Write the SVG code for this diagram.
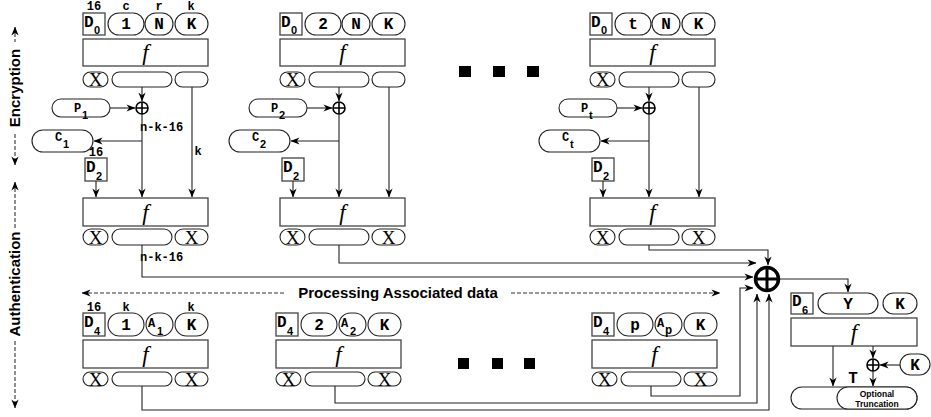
<svg xmlns="http://www.w3.org/2000/svg" width="931" height="417" viewBox="0 0 931 417">
<style>
.bx{fill:#fff;stroke:#444;stroke-width:1.3}
.pl{fill:#fff;stroke:#222;stroke-width:1.1}
.ln{fill:none;stroke:#222;stroke-width:1.1}
.ds{fill:none;stroke:#333;stroke-width:1.1;stroke-dasharray:4 2}
.xo{fill:none;stroke:#000;stroke-width:1.6}
.m{font-family:"Liberation Mono",monospace;font-weight:bold;font-size:16px;fill:#000}
.mc{font-family:"Liberation Mono",monospace;font-weight:bold;font-size:16px;fill:#000;text-anchor:middle}
.sm{font-family:"Liberation Mono",monospace;font-weight:bold;font-size:12px;fill:#000}
.lb{font-family:"Liberation Mono",monospace;font-weight:bold;font-size:12px;fill:#000;text-anchor:middle}
.sb{font-family:"Liberation Sans",sans-serif;font-weight:bold;font-size:11px;fill:#000}
.f{font-family:"Liberation Serif",serif;font-style:italic;font-size:23px;text-anchor:middle;fill:#000}
.x{font-family:"Liberation Serif",serif;font-size:19px;text-anchor:middle;fill:#000}
.ax{font-family:"Liberation Sans",sans-serif;font-weight:bold;font-size:15px;text-anchor:middle;fill:#000}
.sq{fill:#000}
</style>
<defs>
<marker id="ah" viewBox="0 0 10 10" refX="9.5" refY="5" markerWidth="9" markerHeight="9" orient="auto-start-reverse" markerUnits="userSpaceOnUse"><path d="M0,1 L10,5 L0,9 L3,5z" fill="#000"/></marker>
</defs>

<!-- Left axis labels -->
<g id="axis-enc">
<path class="ds" d="M15,27V42" marker-start="url(#ah)"/>
<path class="ds" d="M15,134V165" marker-end="url(#ah)"/>
<text class="ax" transform="translate(20,88) rotate(-90)">Encryption</text>
</g>
<g id="axis-auth">
<path class="ds" d="M15,182V228" marker-start="url(#ah)"/>
<path class="ds" d="M15,341V408" marker-end="url(#ah)"/>
<text class="ax" transform="translate(20,284) rotate(-90)">Authentication</text>
</g>

<!-- Encryption block 1 -->
<g id="enc1">
<text class="lb" x="94" y="10">16</text><text class="lb" x="126" y="10">c</text><text class="lb" x="159" y="10">r</text><text class="lb" x="191" y="10">k</text>
<rect class="bx" x="83" y="13" width="22" height="22"/><text class="m" x="84" y="27" font-size="15">D</text><text class="sb" x="94" y="34">0</text>
<rect class="pl" x="108" y="13" width="36" height="22" rx="11"/><text class="mc" x="126" y="29">1</text>
<rect class="pl" x="145" y="13" width="28" height="22" rx="11"/><text class="mc" x="159" y="29">N</text>
<rect class="pl" x="175" y="13" width="33" height="22" rx="11"/><text class="mc" x="191.5" y="29">K</text>
<rect class="bx" x="83" y="39" width="125" height="27"/><text class="f" x="145.5" y="60">f</text>
<rect class="pl" x="83" y="72" width="25" height="15" rx="7.5"/><text class="x" x="95.5" y="86">X</text>
<rect class="pl" x="112" y="72" width="60" height="15" rx="7.5"/>
<rect class="pl" x="175" y="72" width="33" height="15" rx="7.5"/>
<circle class="xo" cx="142" cy="108" r="6"/><path class="xo" d="M136,108H148M142,102V114"/>
<rect class="pl" x="52" y="99" width="58" height="18" rx="9"/><text class="sm" x="74" y="112">P</text><text class="sb" x="82" y="119" font-size="10">1</text>
<rect class="pl" x="32" y="130" width="61" height="22" rx="11"/><text class="sm" x="55" y="141">C</text><text class="sb" x="63" y="148" font-size="10">1</text>
<text class="sm" x="140" y="131" font-size="13">n-k-16</text>
<text class="lb" x="198" y="155">k</text>
<text class="lb" x="96" y="156">16</text>
<rect class="bx" x="85" y="158" width="22" height="23"/><text class="m" x="86" y="172" font-size="15">D</text><text class="sb" x="96" y="180">2</text>
<rect class="bx" x="83" y="198" width="125" height="28"/><text class="f" x="145.5" y="220">f</text>
<rect class="pl" x="83" y="229" width="25" height="16" rx="8"/><text class="x" x="95.5" y="243.5">X</text>
<rect class="pl" x="112" y="229" width="60" height="16" rx="8"/>
<rect class="pl" x="175" y="229" width="33" height="16" rx="8"/><text class="x" x="191.5" y="243.5">X</text>
<text class="sm" x="140" y="261" font-size="13">n-k-16</text>
</g>

<!-- Encryption block 2 -->
<g id="enc2" transform="translate(197,0)">
<rect class="bx" x="83" y="13" width="22" height="22"/><text class="m" x="84" y="27" font-size="15">D</text><text class="sb" x="94" y="34">0</text>
<rect class="pl" x="108" y="13" width="36" height="22" rx="11"/><text class="mc" x="126" y="29">2</text>
<rect class="pl" x="145" y="13" width="28" height="22" rx="11"/><text class="mc" x="159" y="29">N</text>
<rect class="pl" x="175" y="13" width="33" height="22" rx="11"/><text class="mc" x="191.5" y="29">K</text>
<rect class="bx" x="83" y="39" width="125" height="27"/><text class="f" x="145.5" y="60">f</text>
<rect class="pl" x="83" y="72" width="25" height="15" rx="7.5"/><text class="x" x="95.5" y="86">X</text>
<rect class="pl" x="112" y="72" width="60" height="15" rx="7.5"/>
<rect class="pl" x="175" y="72" width="33" height="15" rx="7.5"/>
<circle class="xo" cx="142" cy="108" r="6"/><path class="xo" d="M136,108H148M142,102V114"/>
<rect class="pl" x="52" y="99" width="58" height="18" rx="9"/><text class="sm" x="74" y="112">P</text><text class="sb" x="82" y="119" font-size="10">2</text>
<rect class="pl" x="32" y="130" width="61" height="22" rx="11"/><text class="sm" x="55" y="141">C</text><text class="sb" x="63" y="148" font-size="10">2</text>
<rect class="bx" x="85" y="158" width="22" height="23"/><text class="m" x="86" y="172" font-size="15">D</text><text class="sb" x="96" y="180">2</text>
<rect class="bx" x="83" y="198" width="125" height="28"/><text class="f" x="145.5" y="220">f</text>
<rect class="pl" x="83" y="229" width="25" height="16" rx="8"/><text class="x" x="95.5" y="243.5">X</text>
<rect class="pl" x="112" y="229" width="60" height="16" rx="8"/>
<rect class="pl" x="175" y="229" width="33" height="16" rx="8"/><text class="x" x="191.5" y="243.5">X</text>
</g>

<!-- Encryption block t -->
<g id="enct" transform="translate(507,0)">
<rect class="bx" x="83" y="13" width="22" height="22"/><text class="m" x="84" y="27" font-size="15">D</text><text class="sb" x="94" y="34">0</text>
<rect class="pl" x="108" y="13" width="36" height="22" rx="11"/><text class="mc" x="126" y="29">t</text>
<rect class="pl" x="145" y="13" width="28" height="22" rx="11"/><text class="mc" x="159" y="29">N</text>
<rect class="pl" x="175" y="13" width="33" height="22" rx="11"/><text class="mc" x="191.5" y="29">K</text>
<rect class="bx" x="83" y="39" width="125" height="27"/><text class="f" x="145.5" y="60">f</text>
<rect class="pl" x="83" y="72" width="25" height="15" rx="7.5"/><text class="x" x="95.5" y="86">X</text>
<rect class="pl" x="112" y="72" width="60" height="15" rx="7.5"/>
<rect class="pl" x="175" y="72" width="33" height="15" rx="7.5"/>
<circle class="xo" cx="142" cy="108" r="6"/><path class="xo" d="M136,108H148M142,102V114"/>
<rect class="pl" x="52" y="99" width="58" height="18" rx="9"/><text class="sm" x="74" y="112">P</text><text class="sb" x="82" y="119" font-size="10">t</text>
<rect class="pl" x="32" y="130" width="61" height="22" rx="11"/><text class="sm" x="55" y="141">C</text><text class="sb" x="63" y="148" font-size="10">t</text>
<rect class="bx" x="85" y="158" width="22" height="23"/><text class="m" x="86" y="172" font-size="15">D</text><text class="sb" x="96" y="180">2</text>
<rect class="bx" x="83" y="198" width="125" height="28"/><text class="f" x="145.5" y="220">f</text>
<rect class="pl" x="83" y="229" width="25" height="16" rx="8"/><text class="x" x="95.5" y="243.5">X</text>
<rect class="pl" x="112" y="229" width="60" height="16" rx="8"/>
<rect class="pl" x="175" y="229" width="33" height="16" rx="8"/><text class="x" x="191.5" y="243.5">X</text>
</g>

<!-- ellipsis dots -->
<g id="dots-top"><rect class="sq" x="459" y="66" width="12" height="11"/><rect class="sq" x="493" y="66" width="12" height="11"/><rect class="sq" x="527" y="66" width="12" height="11"/></g>
<g id="dots-bottom"><rect class="sq" x="458" y="358" width="11" height="11"/><rect class="sq" x="492" y="358" width="11" height="11"/><rect class="sq" x="524" y="358" width="11" height="11"/></g>

<!-- Processing associated data -->
<g id="assoc-label">
<path class="ds" d="M82,293H285" marker-start="url(#ah)"/>
<path class="ds" d="M511,293H720" marker-end="url(#ah)"/>
<text class="ax" x="398" y="298" font-size="14.5">Processing Associated data</text>
</g>

<!-- Authentication block 1 -->
<g id="auth1">
<text class="lb" x="94" y="311">16</text><text class="lb" x="126" y="311">k</text><text class="lb" x="191" y="311">k</text>
<rect class="bx" x="83" y="313" width="22" height="23"/><text class="m" x="84" y="327" font-size="15">D</text><text class="sb" x="94" y="335">4</text>
<rect class="pl" x="108" y="313" width="36" height="23" rx="11.5"/><text class="mc" x="126" y="330">1</text>
<rect class="pl" x="146" y="313" width="27" height="23" rx="11.5"/><text class="sm" x="148" y="327">A</text><text class="sb" x="157" y="335">1</text>
<rect class="pl" x="175" y="313" width="33" height="23" rx="11.5"/><text class="mc" x="191.5" y="330">K</text>
<rect class="bx" x="83" y="340" width="125" height="28"/><text class="f" x="145.5" y="362">f</text>
<rect class="pl" x="83" y="372" width="25" height="14" rx="7"/><text class="x" x="95.5" y="385.5">X</text>
<rect class="pl" x="112" y="372" width="60" height="14" rx="7"/>
<rect class="pl" x="175" y="372" width="33" height="14" rx="7"/><text class="x" x="191.5" y="385.5">X</text>
</g>

<!-- Authentication block 2 -->
<g id="auth2" transform="translate(193,0)">
<rect class="bx" x="83" y="313" width="22" height="23"/><text class="m" x="84" y="327" font-size="15">D</text><text class="sb" x="94" y="335">4</text>
<rect class="pl" x="108" y="313" width="36" height="23" rx="11.5"/><text class="mc" x="126" y="330">2</text>
<rect class="pl" x="146" y="313" width="27" height="23" rx="11.5"/><text class="sm" x="148" y="327">A</text><text class="sb" x="157" y="335">2</text>
<rect class="pl" x="175" y="313" width="33" height="23" rx="11.5"/><text class="mc" x="191.5" y="330">K</text>
<rect class="bx" x="83" y="340" width="125" height="28"/><text class="f" x="145.5" y="362">f</text>
<rect class="pl" x="83" y="372" width="25" height="14" rx="7"/><text class="x" x="95.5" y="385.5">X</text>
<rect class="pl" x="112" y="372" width="60" height="14" rx="7"/>
<rect class="pl" x="175" y="372" width="33" height="14" rx="7"/><text class="x" x="191.5" y="385.5">X</text>
</g>

<!-- Authentication block p -->
<g id="authp" transform="translate(509,0)">
<rect class="bx" x="83" y="313" width="22" height="23"/><text class="m" x="84" y="327" font-size="15">D</text><text class="sb" x="94" y="335">4</text>
<rect class="pl" x="108" y="313" width="36" height="23" rx="11.5"/><text class="mc" x="126" y="330">p</text>
<rect class="pl" x="146" y="313" width="27" height="23" rx="11.5"/><text class="sm" x="148" y="327">A</text><text class="sm" x="156" y="334">p</text>
<rect class="pl" x="175" y="313" width="33" height="23" rx="11.5"/><text class="mc" x="191.5" y="330">K</text>
<rect class="bx" x="83" y="340" width="125" height="28"/><text class="f" x="145.5" y="362">f</text>
<rect class="pl" x="83" y="372" width="25" height="14" rx="7"/><text class="x" x="95.5" y="385.5">X</text>
<rect class="pl" x="112" y="372" width="60" height="14" rx="7"/>
<rect class="pl" x="175" y="372" width="33" height="14" rx="7"/><text class="x" x="191.5" y="385.5">X</text>
</g>

<!-- Big XOR -->
<g id="xor-main">
<circle cx="767" cy="279" r="11.5" fill="none" stroke="#000" stroke-width="3.5"/>
<path d="M755,279H779M767,267V291" stroke="#000" stroke-width="3"/>
</g>

<!-- Final tag block -->
<g id="final">
<rect class="bx" x="791" y="293" width="22" height="21"/><text class="m" x="792" y="306" font-size="15">D</text><text class="sb" x="802" y="314">6</text>
<rect class="pl" x="818" y="293" width="60" height="21" rx="10.5"/><text class="mc" x="848" y="309">Y</text>
<rect class="pl" x="883" y="293" width="34" height="21" rx="10.5"/><text class="mc" x="900" y="309">K</text>
<rect class="bx" x="791" y="318" width="126" height="28"/><text class="f" x="854" y="340">f</text>
<circle class="xo" cx="873" cy="365" r="6"/><path class="xo" d="M867,365H879M873,359V371"/>
<rect class="pl" x="900" y="354" width="30" height="21" rx="10.5"/><text class="mc" x="915" y="370">K</text>
<text class="mc" x="853" y="383">T</text>
<rect class="pl" x="791" y="387" width="126" height="22" rx="11"/>
<rect class="pl" x="837" y="387" width="80" height="22" rx="11"/>
<text x="877" y="397" font-family="Liberation Sans, sans-serif" font-weight="bold" font-size="8.5" text-anchor="middle">Optional</text>
<text x="877" y="407" font-family="Liberation Sans, sans-serif" font-weight="bold" font-size="8.5" text-anchor="middle">Truncation</text>
</g>

<!-- Connectors -->
<g id="connectors" class="ln" marker-end="url(#ah)">
<path d="M142,87V101"/><path d="M142,114V197"/><path d="M192,87V197"/><path d="M110,108H135"/><path d="M142,141H94"/><path d="M96,181V197"/>
<path d="M339,87V101"/><path d="M339,114V197"/><path d="M389,87V197"/><path d="M307,108H332"/><path d="M339,141H291"/><path d="M293,181V197"/>
<path d="M649,87V101"/><path d="M649,114V197"/><path d="M699,87V197"/><path d="M617,108H642"/><path d="M649,141H601"/><path d="M603,181V197"/>
<path d="M142,245V277H753"/>
<path d="M339,245V263H756"/>
<path d="M649,245V250H768V265"/>
<path d="M142,386V410H769V294"/>
<path d="M335,386V403H757V294"/>
<path d="M651,386V396H740V288H753"/>
<path d="M780,279H848V292"/>
<path d="M873,346V358"/>
<path d="M900,365H880"/>
<path d="M873,371V386"/>
<path d="M833,346V386"/>
</g>
</svg>
